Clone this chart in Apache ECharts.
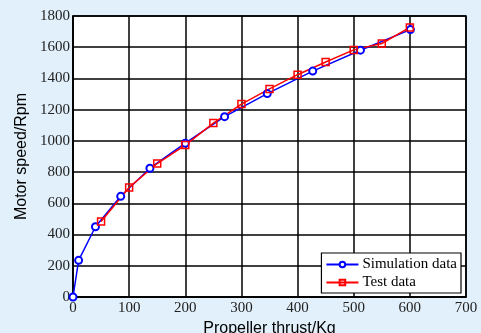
<!DOCTYPE html>
<html lang="en">
<head>
<meta charset="UTF-8">
<style>
  html, body { height: 100%; margin: 0; background: #e1f0fa; }
</style>
</head>
<body>
<div id="chart" style="width:481px;height:333px;"></div>
<script src="https://cdn.jsdelivr.net/npm/echarts@6/dist/echarts.min.js"></script>
<script>
  // simulation data (thrust kg, speed rpm)
  var simThrust = [0, 10, 40, 85, 137, 200, 270, 346, 427, 512, 601];
  var simSpeed  = [0, 235, 450, 645, 825, 985, 1155, 1303, 1447, 1581, 1713];
  // test data
  var testThrust = [50, 100, 150, 200, 250, 300, 350, 400, 450, 500, 550, 600];
  var testSpeed  = [484, 702, 855, 973, 1114, 1236, 1333, 1424, 1505, 1583, 1624, 1727];

  function pairs(xs, ys) {
    var out = [];
    for (var i = 0; i < xs.length; i++) out.push([xs[i], ys[i]]);
    return out;
  }

  var serif = '"Liberation Serif", "DejaVu Serif", serif';
  var sans = '"Liberation Sans", Arial, sans-serif';
  var plain = function (v) { return String(v); };

  var myChart = echarts.init(document.getElementById('chart'));
  myChart.setOption({
    backgroundColor: '#e1f0fa',
    animation: false,
    grid: {
      left: 73, right: 15, top: 16, bottom: 36,
      outerBoundsMode: 'none',
      show: true, backgroundColor: '#fff', borderColor: '#000', borderWidth: 1.5
    },
    legend: {
      right: 20, bottom: 40,
      orient: 'vertical',
      backgroundColor: '#fff',
      borderColor: '#000',
      borderWidth: 1.2,
      borderRadius: 0,
      padding: [4, 4, 3, 4],
      itemGap: 3,
      itemWidth: 32,
      itemHeight: 7,
      textStyle: { fontFamily: serif, fontSize: 15, color: '#000', padding: [0, 0, 0, -1] },
      data: ['Simulation data', 'Test data']
    },
    xAxis: {
      type: 'value', min: 0, max: 700, interval: 100,
      name: 'Propeller thrust/Kg', nameLocation: 'middle', nameGap: 21,
      nameTextStyle: { fontFamily: sans, fontSize: 16, color: '#000' },
      axisLine: { lineStyle: { color: '#000', width: 1.5 } },
      axisTick: { show: false },
      axisLabel: { fontFamily: serif, fontSize: 15, color: '#222', margin: 4, formatter: plain },
      splitLine: { lineStyle: { color: '#000', width: 1.5 } }
    },
    yAxis: {
      type: 'value', min: 0, max: 1800, interval: 200,
      name: 'Motor speed/Rpm', nameLocation: 'middle', nameGap: 41,
      nameTextStyle: { fontFamily: sans, fontSize: 16, color: '#000' },
      axisLine: { show: true, lineStyle: { color: '#000', width: 1.5 } },
      axisTick: { show: false },
      axisLabel: { fontFamily: serif, fontSize: 15, color: '#222', margin: 3, formatter: plain },
      splitLine: { lineStyle: { color: '#000', width: 1.5 } }
    },
    series: [
      {
        name: 'Simulation data', type: 'line',
        data: pairs(simThrust, simSpeed),
        symbol: 'emptyCircle', symbolSize: 7,
        lineStyle: { color: '#0000ff', width: 1.5 },
        itemStyle: { color: '#0000ff', borderColor: '#0000ff', borderWidth: 1.5 }
      },
      {
        name: 'Test data', type: 'line',
        data: pairs(testThrust, testSpeed),
        symbol: 'rect', symbolSize: 7,
        lineStyle: { color: '#ff0000', width: 1.5 },
        itemStyle: { color: 'rgba(0,0,0,0)', borderColor: '#ff0000', borderWidth: 1.5 }
      }
    ]
  });
</script>
</body>
</html>
